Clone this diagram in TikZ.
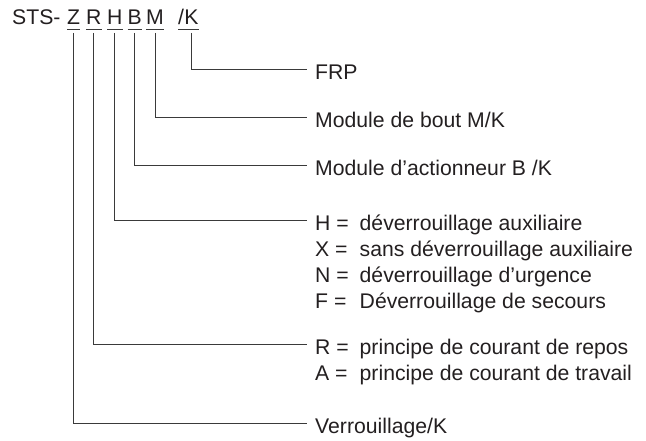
\documentclass[tikz,border=0pt]{standalone}
\usepackage{fontspec}
\setmainfont{Liberation Sans}
\definecolor{ink}{HTML}{231F20}
\definecolor{wire}{HTML}{3A3A3A}
\begin{document}
\begin{tikzpicture}[x=1pt,y=-1pt,
  every node/.style={inner sep=0pt, anchor=base west, text=ink,
    font=\fontsize{21.2}{26}\selectfont},
  uline/.style={draw=wire, line width=0.9pt},
  lead/.style={draw=wire, line width=1pt}]
\path[use as bounding box] (0,0) rectangle (646,441);
% header
\node (sts) at (12,25) {STS-};
\node (cz) at (67,25) {Z};
\node (cr) at (86,25) {R};
\node (ch) at (107,25) {H};
\node (cb) at (127.5,25) {B};
\node (cm) at (146,25) {M};
\node (cs) at (178,25) {/};
\node (ck) at (cs.base east) {K};
\foreach \n in {cz,cr,ch,cb,cm}
  \draw[uline] ([yshift=-4pt]\n.base west) -- ([yshift=-4pt]\n.base east);
\draw[uline] ([yshift=-4pt]cs.base west) -- ([yshift=-4pt]ck.base east);
% line ends
\coordinate (ek) at (307,70);
\coordinate (em) at (307,118);
\coordinate (eb) at (307,166);
\coordinate (eh) at (307,221);
\coordinate (er) at (307,344);
\coordinate (ez) at (307,423);
% labels
\node (lk) at (315,80) {FRP};
\node (lm) at (315,128) {Module de bout M/K};
\node (lb) at (315,176) {Module d’actionneur B /K};
\node (lh1) at (315,230) {H =};
\node (dh1) at (359.5,230) {déverrouillage auxiliaire};
\node (lh2) at (315,256) {X =};
\node (dh2) at (359.5,256) {sans déverrouillage auxiliaire};
\node (lh3) at (315,282) {N =};
\node (dh3) at (359.5,282) {déverrouillage d’urgence};
\node (lh4) at (315,308) {F =};
\node (dh4) at (359.5,308) {Déverrouillage de secours};
\node (lr1) at (315,354) {R =};
\node (dr1) at (359.5,354) {principe de courant de repos};
\node (lr2) at (315,380) {A =};
\node (dr2) at (359.5,380) {principe de courant de travail};
\node (lz) at (315,433) {Verrouillage/K};
% connectors
\draw[lead] ([yshift=-8pt]ck.base) |- (ek);
\draw[lead] ([yshift=-8pt]cm.base) |- (em);
\draw[lead] ([yshift=-8pt]cb.base) |- (eb);
\draw[lead] ([yshift=-8pt]ch.base) |- (eh);
\draw[lead] ([yshift=-8pt]cr.base) |- (er);
\draw[lead] ([yshift=-8pt]cz.base) |- (ez);
\end{tikzpicture}
\end{document}
